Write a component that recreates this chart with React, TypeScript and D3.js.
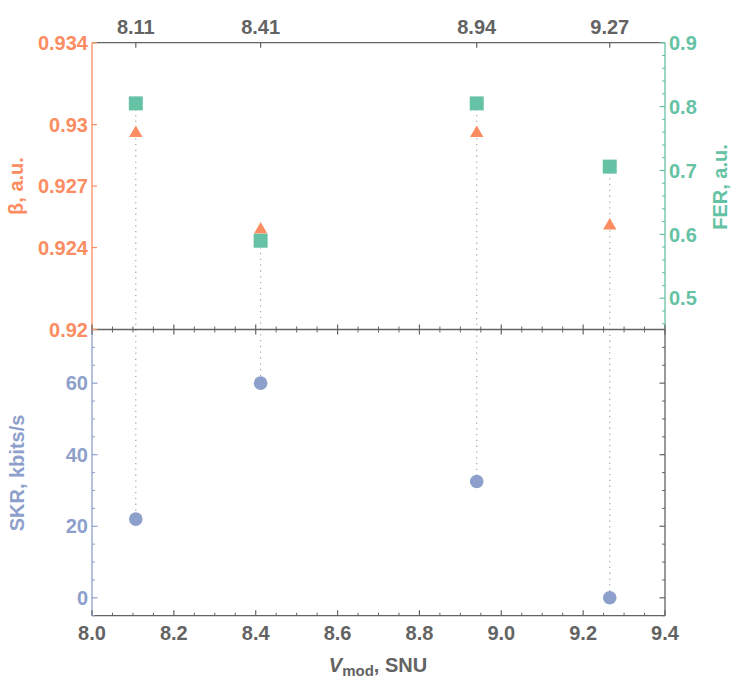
import * as d3 from 'd3';

// measured operating points (top labels are the rounded values)
const vmod = [8.107, 8.412, 8.94, 9.265];
const vmodLabels = ['8.11', '8.41', '8.94', '9.27'];
const beta = [0.92958, 0.92487, 0.92958, 0.92507];
const fer = [0.805, 0.59, 0.805, 0.706];
const skr = [22, 60, 32.5, 0];

const xTicks = [8.0, 8.2, 8.4, 8.6, 8.8, 9.0, 9.2, 9.4];
const betaTicks = [0.92, 0.924, 0.927, 0.93, 0.934];
const betaTickLabels = ['0.92', '0.924', '0.927', '0.93', '0.934'];
const ferTicks = [0.5, 0.6, 0.7, 0.8, 0.9];
const skrTicks = [0, 20, 40, 60];

const WIDTH = 747;
const HEIGHT = 694;
const LEFT = 92;
const RIGHT = 665;
const TOP = 42.7;
const MID = 329.5;
const BOTTOM = 615.7;

const GRAY = '#636363';
const ORANGE = '#fc8d62';
const TEAL = '#66c2a5';
const BLUE = '#8da0cb';
const FONT = '"Liberation Sans", Arial, sans-serif';

export default function App() {
  const x = d3.scaleLinear().domain([8, 9.4]).range([LEFT, RIGHT]);
  const yBeta = d3.scaleLinear().domain([0.92, 0.934]).range([MID, TOP]);
  const yFer = d3.scaleLinear().domain([0.451, 0.9]).range([MID, TOP]);
  const ySkr = d3.scaleLinear().domain([-5, 75]).range([BOTTOM, MID]);

  const xMinor = d3.range(8.05, 9.4, 0.05).filter((v) => Math.abs((v * 5) % 1) > 0.01 && Math.abs((v * 5) % 1) < 0.99);
  const ferMinor = d3.range(0.46, 0.9, 0.02).filter((v) => Math.abs((v * 10) % 1) > 0.01 && Math.abs((v * 10) % 1) < 0.99);
  const skrMinor = d3.range(-5, 75, 5).filter((v) => v % 20 !== 0);

  const triangle = d3.symbol().type(d3.symbolTriangle).size(78)();
  const square = d3.symbol().type(d3.symbolSquare).size(196)();

  const textProps = { fontFamily: FONT, fontWeight: 'bold', fontSize: 20 };

  return (
    <svg width={WIDTH} height={HEIGHT} style={{ position: 'absolute', left: 0, top: 0, background: '#fff' }}>
      {/* dotted drop lines */}
      {vmod.map((v, i) => (
        <line
          key={`drop-${i}`}
          x1={x(v)}
          x2={x(v)}
          y1={Math.min(yBeta(beta[i]), yFer(fer[i]))}
          y2={ySkr(skr[i])}
          stroke="#a0a0a0"
          strokeWidth={1.1}
          strokeDasharray="1.3 4.5"
        />
      ))}

      {/* frame */}
      <line x1={LEFT} x2={RIGHT} y1={TOP} y2={TOP} stroke={GRAY} strokeWidth={1.3} />
      <line x1={LEFT} x2={RIGHT} y1={MID} y2={MID} stroke={GRAY} strokeWidth={1.3} />
      <line x1={LEFT} x2={RIGHT} y1={BOTTOM} y2={BOTTOM} stroke={GRAY} strokeWidth={1.3} />
      <line x1={LEFT} x2={LEFT} y1={TOP} y2={MID} stroke={ORANGE} strokeWidth={1.3} />
      <line x1={LEFT} x2={LEFT} y1={MID} y2={BOTTOM} stroke={BLUE} strokeWidth={1.3} />
      <line x1={RIGHT} x2={RIGHT} y1={TOP} y2={MID} stroke={TEAL} strokeWidth={1.3} />
      <line x1={RIGHT} x2={RIGHT} y1={MID} y2={BOTTOM} stroke={GRAY} strokeWidth={1.3} />

      {/* top ticks at data positions */}
      {vmod.map((v, i) => (
        <g key={`top-${i}`}>
          <line x1={x(v)} x2={x(v)} y1={TOP} y2={TOP + 5} stroke={GRAY} strokeWidth={1.2} />
          <text x={x(v)} y={34} textAnchor="middle" fill={GRAY} {...textProps}>
            {vmodLabels[i]}
          </text>
        </g>
      ))}

      {/* middle and bottom x ticks */}
      {xTicks.map((v) => (
        <g key={`xt-${v}`}>
          <line x1={x(v)} x2={x(v)} y1={MID - 5} y2={MID + 5} stroke={GRAY} strokeWidth={1.2} />
          <line x1={x(v)} x2={x(v)} y1={BOTTOM} y2={BOTTOM - 5.5} stroke={GRAY} strokeWidth={1.2} />
          <text x={x(v)} y={640} textAnchor="middle" fill={GRAY} {...textProps}>
            {d3.format('.1f')(v)}
          </text>
        </g>
      ))}
      {xMinor.map((v) => (
        <g key={`xm-${v}`}>
          <line x1={x(v)} x2={x(v)} y1={MID - 3} y2={MID + 3} stroke={GRAY} strokeWidth={1} />
          <line x1={x(v)} x2={x(v)} y1={BOTTOM} y2={BOTTOM - 3} stroke={GRAY} strokeWidth={1} />
        </g>
      ))}

      {/* beta axis */}
      {betaTicks.map((v, i) => (
        <g key={`bt-${v}`}>
          <line x1={LEFT} x2={LEFT + 5} y1={yBeta(v)} y2={yBeta(v)} stroke={ORANGE} strokeWidth={1.2} />
          <text x={88} y={yBeta(v)} dy="0.36em" textAnchor="end" fill={ORANGE} {...textProps}>
            {betaTickLabels[i]}
          </text>
        </g>
      ))}

      {/* FER axis */}
      {ferTicks.map((v) => (
        <g key={`ft-${v}`}>
          <line x1={RIGHT} x2={RIGHT - 5.5} y1={yFer(v)} y2={yFer(v)} stroke={TEAL} strokeWidth={1.2} />
          <text x={669} y={yFer(v)} dy="0.36em" textAnchor="start" fill={TEAL} {...textProps}>
            {d3.format('.1f')(v)}
          </text>
        </g>
      ))}
      {ferMinor.map((v) => (
        <line key={`fm-${v}`} x1={RIGHT} x2={RIGHT - 3} y1={yFer(v)} y2={yFer(v)} stroke={TEAL} strokeWidth={1} />
      ))}

      {/* SKR axis, mirrored on the right */}
      {skrTicks.map((v) => (
        <g key={`st-${v}`}>
          <line x1={LEFT} x2={LEFT + 5.5} y1={ySkr(v)} y2={ySkr(v)} stroke={BLUE} strokeWidth={1.2} />
          <line x1={RIGHT} x2={RIGHT - 5.5} y1={ySkr(v)} y2={ySkr(v)} stroke={GRAY} strokeWidth={1.2} />
          <text x={88} y={ySkr(v)} dy="0.36em" textAnchor="end" fill={BLUE} {...textProps}>
            {v}
          </text>
        </g>
      ))}
      {skrMinor.map((v) => (
        <g key={`sm-${v}`}>
          <line x1={LEFT} x2={LEFT + 3} y1={ySkr(v)} y2={ySkr(v)} stroke={BLUE} strokeWidth={1} />
          <line x1={RIGHT} x2={RIGHT - 3} y1={ySkr(v)} y2={ySkr(v)} stroke={GRAY} strokeWidth={1} />
        </g>
      ))}

      {/* markers */}
      {vmod.map((v, i) => (
        <path key={`tri-${i}`} d={triangle ?? ''} transform={`translate(${x(v)},${yBeta(beta[i])})`} fill={ORANGE} />
      ))}
      {vmod.map((v, i) => (
        <path key={`sq-${i}`} d={square ?? ''} transform={`translate(${x(v)},${yFer(fer[i])})`} fill={TEAL} />
      ))}
      {vmod.map((v, i) => (
        <circle key={`c-${i}`} cx={x(v)} cy={ySkr(skr[i])} r={6.8} fill={BLUE} />
      ))}

      {/* axis titles */}
      <text transform="translate(23,186) rotate(-90)" textAnchor="middle" fill={ORANGE} {...textProps}>
        β, a.u.
      </text>
      <text transform="translate(727,187) rotate(-90)" textAnchor="middle" fill={TEAL} {...textProps}>
        FER, a.u.
      </text>
      <text transform="translate(24,473) rotate(-90)" textAnchor="middle" fill={BLUE} {...textProps}>
        SKR, kbits/s
      </text>
      <text x={378} y={672} textAnchor="middle" fill={GRAY} {...textProps}>
        <tspan fontStyle="italic">V</tspan>
        <tspan fontSize={15} dy={4}>mod</tspan>
        <tspan dy={-4}>, SNU</tspan>
      </text>
    </svg>
  );
}
